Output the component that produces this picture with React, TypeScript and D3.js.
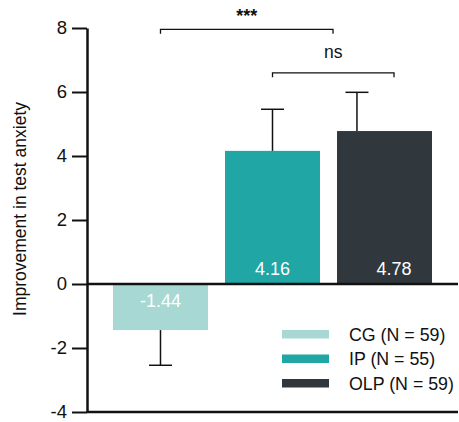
import { useEffect, useRef } from 'react';
import * as d3 from 'd3';

// group means and error bars
const groups = ['CG', 'IP', 'OLP'];
const means = [-1.44, 4.16, 4.78];
const errors = [1.1, 1.3, 1.21];
const valueLabels = ['-1.44', '4.16', '4.78'];
const legendLabels = ['CG (N = 59)', 'IP (N = 55)', 'OLP (N = 59)'];
const yTicks = [-4, -2, 0, 2, 4, 6, 8];
const brackets = [
  { from: 'CG', to: 'OLP', label: '***', level: 7.96 },
  { from: 'IP', to: 'OLP', label: 'ns', level: 6.6 },
];

const colors = ['#a7d8d3', '#1fa6a5', '#30383e'];
// where the error bar / value label sit inside each bar (fraction of bar width)
const errFrac = [0.5, 0.5, 0.21];
const labelFrac = [0.5, 0.5, 0.6];

function App() {
  const svgRef = useRef<SVGSVGElement>(null);

  useEffect(() => {
    if (!svgRef.current) return;
    const svg = d3.select(svgRef.current);
    svg.selectAll('*').remove();

    const width = 459;
    const height = 422;
    const left = 87;
    const right = 458;
    const font = '"Liberation Sans", Arial, sans-serif';

    svg.attr('width', width).attr('height', height).style('font-family', font);

    const y = d3.scaleLinear().domain([-4, 8]).range([412, 28]);
    const x = d3.scaleBand().domain(groups).range([113, 432]).paddingInner(0.152);

    // bars
    svg.append('g')
      .selectAll('rect')
      .data(groups)
      .enter()
      .append('rect')
      .attr('x', d => x(d)!)
      .attr('width', x.bandwidth())
      .attr('y', (_, i) => y(Math.max(0, means[i])))
      .attr('height', (_, i) => Math.abs(y(means[i]) - y(0)))
      .attr('fill', (_, i) => colors[i]);

    // error bars
    const errG = svg.append('g').attr('stroke', '#111').attr('stroke-width', 1.5);
    groups.forEach((g, i) => {
      const cx = x(g)! + x.bandwidth() * errFrac[i];
      const tip = means[i] < 0 ? means[i] - errors[i] : means[i] + errors[i];
      errG.append('line')
        .attr('x1', cx).attr('x2', cx)
        .attr('y1', y(means[i])).attr('y2', y(tip));
      errG.append('line')
        .attr('x1', cx - 11.5).attr('x2', cx + 11.5)
        .attr('y1', y(tip)).attr('y2', y(tip));
    });

    // value labels
    svg.append('g')
      .selectAll('text')
      .data(groups)
      .enter()
      .append('text')
      .attr('x', (d, i) => x(d)! + x.bandwidth() * labelFrac[i])
      .attr('y', (_, i) => (means[i] < 0 ? y(0) + 23 : y(0) - 9.5))
      .attr('text-anchor', 'middle')
      .attr('fill', '#fff')
      .attr('font-size', 18)
      .text((_, i) => valueLabels[i]);

    // y axis
    const yAxis = svg.append('g')
      .attr('transform', `translate(${left},0)`)
      .call(d3.axisLeft(y).tickValues(yTicks).tickSize(15).tickSizeOuter(0).tickPadding(5).tickFormat(d3.format('d')));
    yAxis.select('.domain').attr('stroke', '#111').attr('stroke-width', 2.5);
    yAxis.selectAll('.tick line').attr('stroke', '#111').attr('stroke-width', 2);
    yAxis.selectAll('.tick text')
      .attr('fill', '#111')
      .attr('font-size', 18.5)
      .attr('font-family', font)
      .text(d => String(d).replace('\u2212', '-'));

    // zero line and bottom line
    [0, -4].forEach(v => {
      svg.append('line')
        .attr('x1', left).attr('x2', right)
        .attr('y1', y(v)).attr('y2', y(v))
        .attr('stroke', '#111')
        .attr('stroke-width', 2.5);
    });

    svg.append('text')
      .attr('transform', `translate(26,209) rotate(-90)`)
      .attr('text-anchor', 'middle')
      .attr('font-size', 17.5)
      .attr('fill', '#111')
      .text('Improvement in test anxiety');

    // significance brackets
    brackets.forEach((b, k) => {
      const i1 = groups.indexOf(b.to);
      const x0 = x(b.from)! + x.bandwidth() * 0.5;
      const x1 = k === 0 ? x(b.to)! - 4 : x(b.to)! + x.bandwidth() * labelFrac[i1];
      const by = y(b.level);
      svg.append('path')
        .attr('d', `M${x0},${by + 4.5}V${by}H${x1}V${by + 4.5}`)
        .attr('fill', 'none')
        .attr('stroke', '#111')
        .attr('stroke-width', 1.3);
      svg.append('text')
        .attr('x', (x0 + x1) / 2)
        .attr('y', k === 0 ? by - 7 : by - 14.5)
        .attr('text-anchor', 'middle')
        .attr('font-size', k === 0 ? 18 : 17.5)
        .attr('font-weight', k === 0 ? 'bold' : 'normal')
        .attr('fill', '#111')
        .text(b.label);
    });

    // legend
    const legend = svg.append('g').attr('transform', 'translate(282,334)');
    legendLabels.forEach((lab, i) => {
      const row = legend.append('g').attr('transform', `translate(0,${i * 24.5})`);
      row.append('rect')
        .attr('x', 0).attr('y', -4)
        .attr('width', 47).attr('height', 8.5)
        .attr('fill', colors[i]);
      row.append('text')
        .attr('x', 67)
        .attr('y', 6.5)
        .attr('font-size', 17.8)
        .attr('fill', '#111')
        .text(lab);
    });
  }, []);

  return (
    <svg ref={svgRef} style={{ position: 'absolute', left: 0, top: 0 }} />
  );
}

export default App;
